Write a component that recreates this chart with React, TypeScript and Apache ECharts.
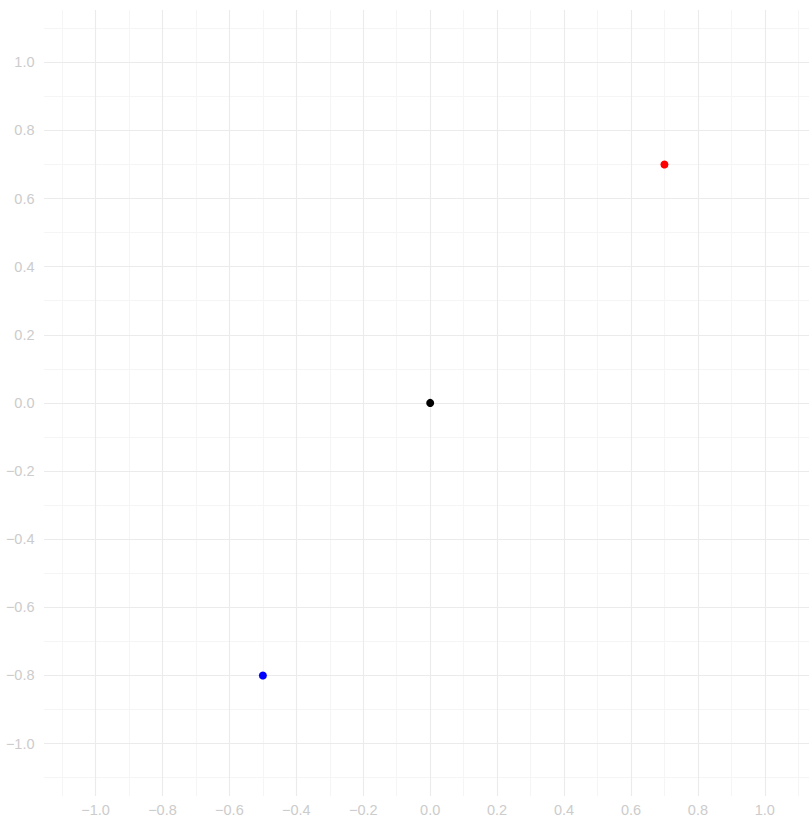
import React, { useEffect, useRef } from "react";
import * as echarts from "echarts";

const pointX = [0, 0.7, -0.5];
const pointY = [0, 0.7, -0.8];
const pointColors = ["#000000", "#ff0000", "#0000ff"];

const majorBreaks = [-1.0, -0.8, -0.6, -0.4, -0.2, 0.0, 0.2, 0.4, 0.6, 0.8, 1.0];
const minorBreaks = [-1.1, -0.9, -0.7, -0.5, -0.3, -0.1, 0.1, 0.3, 0.5, 0.7, 0.9, 1.1];

const xMin = -1.154;
const xMax = 1.132;
const yMin = -1.154;
const yMax = 1.1535;

const fmt = (v: number) => {
  const r = Math.round(v * 10) / 10;
  const s = Math.abs(r).toFixed(1);
  return r < 0 ? "\u2212" + s : s;
};

export default function App() {
  const ref = useRef<HTMLDivElement>(null);
  useEffect(() => {
    if (!ref.current) return;
    const chart = echarts.init(ref.current, null, { renderer: "svg" });
    const labelStyle = {
      color: "#cccccc",
      fontSize: 14.5,
      fontFamily: "Liberation Sans, Arial, sans-serif",
    };
    const gridLines = (axis: "xAxis" | "yAxis", vals: number[], color: string, width: number) => ({
      type: "scatter",
      data: [],
      silent: true,
      z: 1,
      markLine: {
        silent: true,
        symbol: "none",
        animation: false,
        label: { show: false },
        lineStyle: { color, width, type: "solid" },
        emphasis: { disabled: true },
        data: vals.map((v) => ({ [axis]: v })),
      },
    });
    const labelFormatter = (v: number) =>
      majorBreaks.some((b) => Math.abs(b - v) < 1e-6) ? fmt(v) : "";
    chart.setOption({
      animation: false,
      backgroundColor: "#ffffff",
      grid: { left: 44, right: 0, top: 10, bottom: 19.3, containLabel: false },
      xAxis: {
        type: "value",
        min: xMin,
        max: xMax,
        splitNumber: 11,
        axisLine: { show: false },
        axisTick: { show: false },
        splitLine: { show: false },
        axisLabel: {
          ...labelStyle,
          margin: 6,
          showMinLabel: false,
          showMaxLabel: false,
          formatter: labelFormatter,
        },
      },
      yAxis: {
        type: "value",
        min: yMin,
        max: yMax,
        splitNumber: 11,
        axisLine: { show: false },
        axisTick: { show: false },
        splitLine: { show: false },
        axisLabel: {
          ...labelStyle,
          margin: 9.5,
          showMinLabel: false,
          showMaxLabel: false,
          formatter: labelFormatter,
        },
      },
      series: [
        gridLines("xAxis", minorBreaks, "#f5f5f5", 1),
        gridLines("yAxis", minorBreaks, "#f5f5f5", 1),
        gridLines("xAxis", majorBreaks, "#ebebeb", 1.1),
        gridLines("yAxis", majorBreaks, "#ebebeb", 1.1),
        {
          type: "scatter",
          z: 5,
          symbolSize: 8,
          data: pointX.map((x, i) => ({
            value: [x, pointY[i]],
            itemStyle: { color: pointColors[i], opacity: 1 },
          })),
        },
      ],
    });
    return () => chart.dispose();
  }, []);
  return (
    <div
      ref={ref}
      style={{ position: "fixed", left: 0, top: 0, width: 809, height: 817 }}
    />
  );
}
